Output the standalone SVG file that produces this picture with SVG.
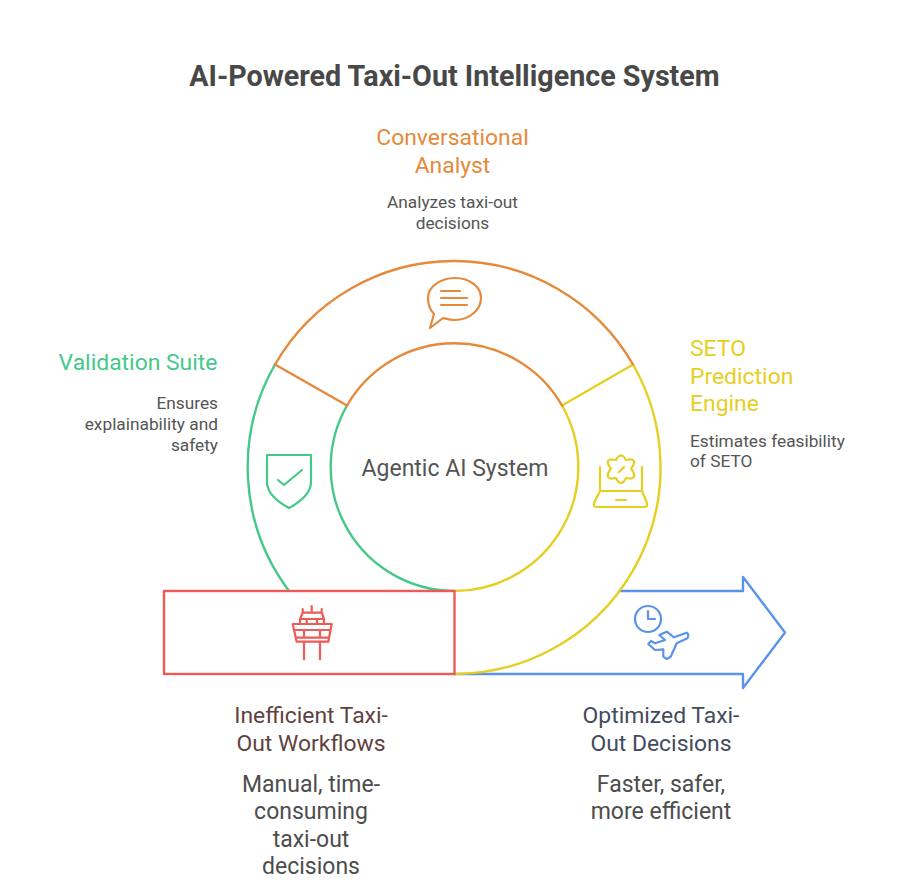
<svg xmlns="http://www.w3.org/2000/svg" width="909" height="886" viewBox="0 0 909 886">
<style>
text{font-family:Roboto,"Liberation Sans",sans-serif;text-anchor:middle}
.l{fill:none;stroke-width:2.4;stroke-linecap:round;stroke-linejoin:round}
.i{fill:none;stroke-width:2.2;stroke-linecap:round;stroke-linejoin:round}
.o{stroke:#e58a3a}.y{stroke:#e6cf22}.g{stroke:#45c98a}.r{stroke:#ee5a56}.b{stroke:#5b93ea}
.h{font-size:22.900px}
.d{font-size:17.300px;fill:#555}
.d2{font-size:23px;fill:#4d4d4d}
.s{text-anchor:start}.e{text-anchor:end}
</style>
<rect width="909" height="886" fill="#fff"/>
<text x="454.500" y="86" font-size="28.700" font-weight="700" fill="#484848">AI-Powered Taxi-Out Intelligence System</text>
<g id="connectors">
<path class="l b" d="M620 591H743V577L785 632.500L743 688V674H454.500"/>
<path class="l g" d="M275 364.500A206.500 206.500 0 0 0 289 591"/>
<path class="l g" d="M347 405.500A124 124 0 0 0 454.500 591"/>
<path class="l y" d="M633 364.500A206.500 206.500 0 0 1 454.500 674"/>
<path class="l y" d="M562 405.500A124 124 0 0 1 454.500 591"/>
<path class="l y" d="M633 364.500L562 405.500"/>
<path class="l o" d="M275 364.500A206.500 206.500 0 0 1 633 364.500"/>
<path class="l o" d="M347 405.500A124 124 0 0 1 562 405.500"/>
<path class="l o" d="M275 364.500L347 405.500"/>
</g>
<g id="center"><text x="455" y="476" font-size="23" fill="#555">Agentic AI System</text></g>
<g id="conversational-analyst">
<text class="h" x="452.500" y="145" fill="#e58a3a">Conversational</text>
<text class="h" x="452.500" y="173" fill="#e58a3a">Analyst</text>
<text class="d" x="452.500" y="208">Analyzes taxi-out</text>
<text class="d" x="452.500" y="229">decisions</text>
<path class="i o" d="M455 278C470 278 481 287 481 298C481 310 469 320 455 320C450 320 447 319 443 318L430 328L434 314C430 310 428 304 428 298C428 287 440 278 455 278Z"/>
<path class="i o" d="M441 291H460M441 298H467M441 305H467"/>
</g>
<g id="validation-suite">
<text class="h" x="138" y="370" fill="#45c98a">Validation Suite</text>
<text class="d e" x="218" y="409">Ensures</text>
<text class="d e" x="218" y="430">explainability and</text>
<text class="d e" x="218" y="451">safety</text>
<path class="i g" d="M267 455H311V482C311 494 300 502 289 508C278 502 267 494 267 482Z"/>
<path class="i g" d="M278 480L284 485L302 470"/>
</g>
<g id="seto-prediction-engine">
<text class="h s" x="690" y="356" fill="#e6cf22">SETO</text>
<text class="h s" x="690" y="384" fill="#e6cf22">Prediction</text>
<text class="h s" x="690" y="411" fill="#e6cf22">Engine</text>
<text class="d s" x="690" y="447">Estimates feasibility</text>
<text class="d s" x="690" y="467">of SETO</text>
<path class="i y" d="M621 455.500C624 455.500 625 458 626 460C628 460 632 458 634 461C635 464 633 466 631 468.500C633 471 635 474 634 477C632 480 628 478 626 478C625 480 624 483 621 483C618 483 617 480 616 478C614 478 610 480 608 477C607 474 609 471 611 468.500C609 466 607 464 608 461C610 458 614 460 616 460C617 458 618 455.500 621 455.500Z"/>
<path class="i y" d="M619 472L624 467"/>
<path class="i y" d="M600 467V491H642V467M600 491L594 503Q593 507 597 507H644Q648 507 647 503L642 491M616 500H626"/>
</g>
<g id="inefficient">
<rect x="164" y="591" width="290.500" height="83" fill="#fff" stroke="#ee5a56" stroke-width="2.400"/>
<path class="i r" d="M311.700 606V612.700M302.700 609V612.700H321.700V609M302.700 612.700L300 619V623M321.700 612.700L324 619V623M300 619H324M306.700 619V623M317 619V623"/>
<path class="i r" d="M292.700 624H331.700L328.300 641.700H296.700ZM294 630H330M296 637.700H329M304 630V637M320 630V637M304 642.700V659.300M320 642.700V659.300"/>
<text class="h" x="311" y="723" fill="#5e4340">Inefficient Taxi-</text>
<text class="h" x="311" y="751" fill="#5e4340">Out Workflows</text>
<text class="d2" x="311" y="792">Manual, time-</text>
<text class="d2" x="311" y="819">consuming</text>
<text class="d2" x="311" y="847">taxi-out</text>
<text class="d2" x="311" y="874">decisions</text>
</g>
<g id="optimized">
<circle class="i b" cx="648" cy="619" r="13"/>
<path class="i b" d="M648 611V619H655"/>
<path class="i b" d="M686.700 632.700L674 637.300L666.700 631.700L659.300 635L665 640L655 643.300L651 641L648.300 644L655 650L663.300 649.300V656.700L666.700 659L670.700 656.700L676.700 643.300L687.300 638.300Q689.500 635 686.700 632.700Z"/>
<text class="h" x="661" y="723" fill="#434b5e">Optimized Taxi-</text>
<text class="h" x="661" y="751" fill="#434b5e">Out Decisions</text>
<text class="d2" x="661" y="792">Faster, safer,</text>
<text class="d2" x="661" y="819">more efficient</text>
</g>
</svg>
